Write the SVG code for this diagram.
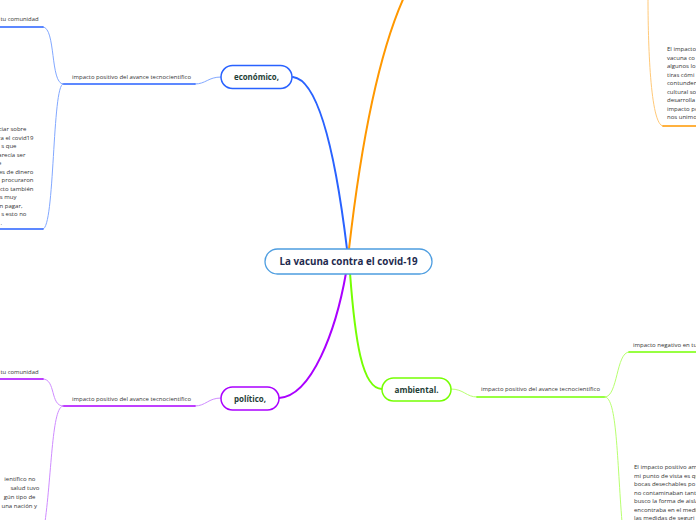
<svg xmlns="http://www.w3.org/2000/svg" width="696" height="520" viewBox="0 0 696 520">
<style>
.bg{fill:#ffffff}
.t{font-family:"Open Sans","Noto Sans","Liberation Sans",sans-serif;font-size:6px;fill:#333333}
.n{font-family:"Open Sans","Noto Sans","Liberation Sans",sans-serif;font-weight:700;fill:#1f4037}
.c{fill:none;stroke-linecap:round}
.blue{stroke:#2962ff}
.blueL{stroke:#82a8ff}
.pur{stroke:#aa00ff}
.purL{stroke:#cf8cff}
.grn{stroke:#76ff03}
.grnL{stroke:#b8ff70}
.org{stroke:#ff9800}
.orgL{stroke:#ffc978}
.main{stroke-width:2}
.thin{stroke-width:1}
.ul{stroke-width:1.6}
</style>
<rect class="bg" x="0" y="0" width="696" height="520"/>
<g id="connectors">
<path class="c blue main" d="M293,77 C318,80 335,150 347,249"/>
<path class="c org main" d="M349,249 C358,170 375,60 405,-5"/>
<path class="c pur main" d="M346,273 C336,330 312,396 279,398"/>
<path class="c grn main" d="M350,273 C355,340 362,389 382,389"/>
<path class="c blueL thin" d="M221,77 C208,77 206,84 195,84"/>
<path class="c blue ul" d="M63,84 L195,84"/>
<path class="c blueL thin" d="M63,84 C50,84 56,27 43,27"/>
<path class="c blue ul" d="M0,27 L43,27"/>
<path class="c blueL thin" d="M63,84 C52,84 55,229 43,229"/>
<path class="c blue ul" d="M0,229 L43,229"/>
<path class="c orgL thin" d="M648,-2 C648,40 650,126 663,126"/>
<path class="c org ul" d="M663,126 L698,126"/>
<path class="c purL thin" d="M221,398 C208,398 206,406 195,406"/>
<path class="c pur ul" d="M63,406 L195,406"/>
<path class="c purL thin" d="M63,406 C50,406 56,379 43,379"/>
<path class="c pur ul" d="M0,379 L43,379"/>
<path class="c purL thin" d="M63,406 C52,406 52,470 45,522"/>
<path class="c grnL thin" d="M451,389 C464,389 466,397 477,397"/>
<path class="c grn ul" d="M477,397 L605,397"/>
<path class="c grnL thin" d="M605,397 C618,397 616,352 629,352"/>
<path class="c grn ul" d="M629,352 L698,352"/>
<path class="c grnL thin" d="M605,397 C617,397 617,460 622,522"/>
</g>
<g id="central">
<rect x="265" y="249" width="167" height="25" rx="12.5" fill="#ffffff" stroke="#4d9de0" stroke-width="1.3"/>
<text x="348.5" y="265" text-anchor="middle" font-family="Open Sans, Noto Sans, Liberation Sans, sans-serif" font-weight="700" font-size="10" fill="#1e2a4e" textLength="138" lengthAdjust="spacingAndGlyphs">La vacuna contra el covid-19</text>
</g>
<g id="economico">
<rect x="221" y="65.5" width="71" height="23" rx="11.5" fill="#ffffff" stroke="#2962ff" stroke-width="1.5"/>
<text class="n" x="256.5" y="80" text-anchor="middle" font-size="8.5" textLength="45" lengthAdjust="spacingAndGlyphs">económico,</text>
</g>
<g id="eco-impacto">
<text class="t" x="72" y="79" textLength="119" lengthAdjust="spacingAndGlyphs">impacto positivo del avance tecnocientífico</text>
</g>
<g id="eco-comunidad">
<text class="t" x="0.5" y="21" textLength="38" lengthAdjust="spacingAndGlyphs">tu comunidad</text>
</g>
<g id="eco-texto">
<text class="t" text-anchor="end">
<tspan x="28" y="131">ciar sobre</tspan>
<tspan x="35" y="139.5">ra el covid19</tspan>
<tspan x="18" y="148">s que</tspan>
<tspan x="27" y="156.5">parecía ser</tspan>
<tspan x="3" y="165">e</tspan>
<tspan x="35" y="173.5">es de dinero</tspan>
<tspan x="35" y="182">procuraron</tspan>
<tspan x="35" y="190.5">cto también</tspan>
<tspan x="18" y="199">s muy</tspan>
<tspan x="24" y="207.5">n pagar,</tspan>
<tspan x="28" y="216">s esto no</tspan>
<tspan x="2" y="224.5">.</tspan>
</text>
</g>
<g id="orange-texto">
<text class="t">
<tspan x="667" y="51">El impacto</tspan>
<tspan x="667" y="59.5">vacuna co</tspan>
<tspan x="667" y="68">algunos lo</tspan>
<tspan x="667" y="76.5">tiras cómi</tspan>
<tspan x="667" y="85">contunden</tspan>
<tspan x="667" y="93.5">cultural so</tspan>
<tspan x="667" y="102">desarrolla</tspan>
<tspan x="667" y="110.5">impacto po</tspan>
<tspan x="667" y="119">nos unimo</tspan>
</text>
</g>
<g id="politico">
<rect x="221" y="387" width="58" height="23" rx="11.5" fill="#ffffff" stroke="#aa00ff" stroke-width="1.5"/>
<text class="n" x="250" y="401.5" text-anchor="middle" font-size="8.5" textLength="32" lengthAdjust="spacingAndGlyphs">político,</text>
</g>
<g id="pol-impacto">
<text class="t" x="72" y="401" textLength="119" lengthAdjust="spacingAndGlyphs">impacto positivo del avance tecnocientífico</text>
</g>
<g id="pol-comunidad">
<text class="t" x="0.5" y="374" textLength="38" lengthAdjust="spacingAndGlyphs">tu comunidad</text>
</g>
<g id="pol-texto">
<text class="t" text-anchor="end">
<tspan x="37" y="481">ientífico no</tspan>
<tspan x="41" y="490">salud tuvo</tspan>
<tspan x="37" y="498.5">gún tipo de</tspan>
<tspan x="37" y="507.5">una nación y</tspan>
</text>
</g>
<g id="ambiental">
<rect x="382" y="378" width="69" height="23" rx="11.5" fill="#ffffff" stroke="#76ff03" stroke-width="1.5"/>
<text class="n" x="416.5" y="392.5" text-anchor="middle" font-size="9" textLength="44" lengthAdjust="spacingAndGlyphs">ambiental.</text>
</g>
<g id="amb-impacto">
<text class="t" x="481" y="391" textLength="119" lengthAdjust="spacingAndGlyphs">impacto positivo del avance tecnocientífico</text>
</g>
<g id="amb-negativo">
<text class="t" x="633" y="347">impacto negativo en tu</text>
</g>
<g id="amb-texto">
<text class="t">
<tspan x="634" y="469">El impacto positivo am</tspan>
<tspan x="634" y="477.5">mi punto de vista es qu</tspan>
<tspan x="634" y="486">bocas desechables po</tspan>
<tspan x="634" y="494.5">no contaminaban tanto</tspan>
<tspan x="634" y="503">busco la forma de aisla</tspan>
<tspan x="634" y="511.5">encontraba en el medi</tspan>
<tspan x="634" y="520">las medidas de seguri</tspan>
</text>
</g>
</svg>
